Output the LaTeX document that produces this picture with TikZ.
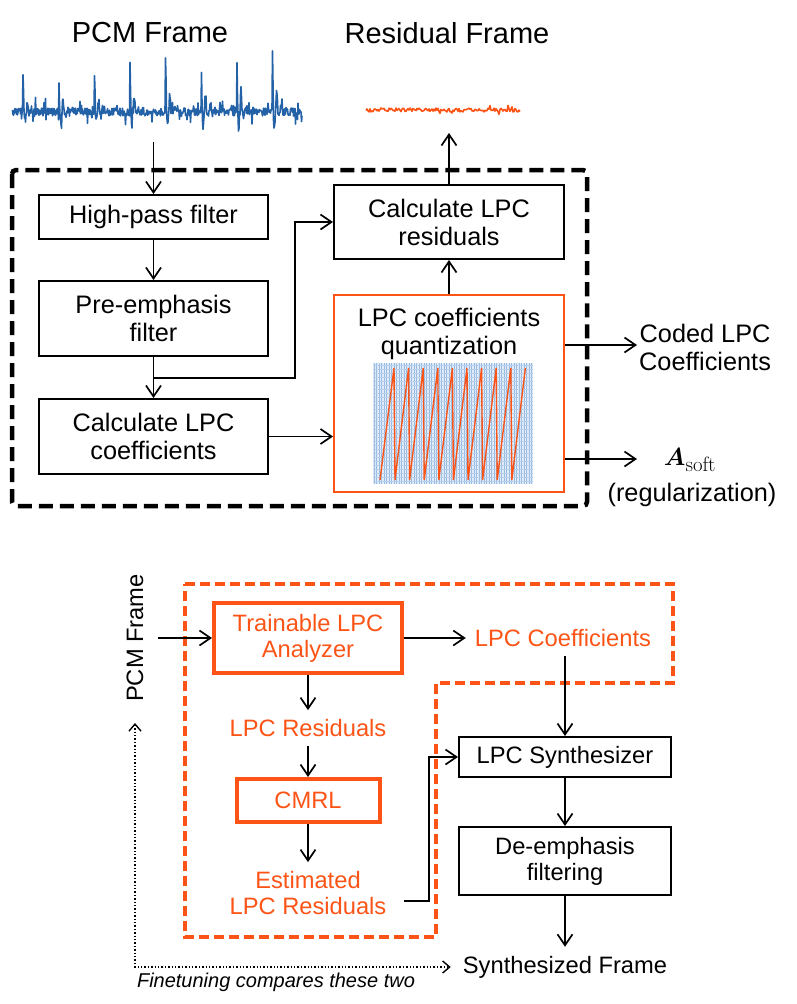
\documentclass[tikz,border=0pt]{standalone}
\usepackage{amsmath}
\usepackage[no-math]{fontspec}
\setmainfont{Liberation Sans}
\usetikzlibrary{arrows.meta}

\definecolor{orng}{RGB}{252,84,22}
\definecolor{wavblue}{RGB}{36,98,168}
\definecolor{gridbg}{RGB}{226,236,248}
\definecolor{gridln}{RGB}{150,186,226}

\newcommand{\bigfont}{\fontsize{29}{32}\selectfont}
\newcommand{\boxfont}{\fontsize{25.3}{28}\selectfont}
\newcommand{\lowfont}{\fontsize{23.7}{26}\selectfont}

\tikzset{
  blk/.style={draw, line width=2pt, align=center, font=\boxfont, inner sep=0pt},
  lowblk/.style={draw, line width=2pt, align=center, font=\lowfont, inner sep=0pt},
  orblk/.style={draw=orng, text=orng, line width=4pt, align=center, font=\lowfont, inner sep=0pt},
  ortxt/.style={text=orng, align=center, font=\lowfont, inner sep=9pt},
  flow/.style={->, line width=1.7pt},
}

\begin{document}
\begin{tikzpicture}[x=1pt, y=-1pt, >={Straight Barb[length=11pt,width=15pt]}]
	\useasboundingbox (0,0) rectangle (797,1004);
	
	% 1. waveforms (top)
	\pgfmathsetseed{11}
	\draw[wavblue, line width=1.6pt, line join=round] plot[domain=12:302, samples=581]
		(\x, {112 - (32+0.16*(\x-12))*exp(-mod(\x+12.6,35.6)/3.5)*(max(cos(80*mod(\x+12.6,35.6)),0)+0.45*min(cos(80*mod(\x+12.6,35.6)),0)) + 4*rand + 12*(rand>0.75)*rand});
	\draw[orng, line width=1.6pt, line join=round] plot[domain=366:520, samples=155]
		(\x, {110 + 2*rand + 6*(rand>0.85)*rand});
	\node[font=\bigfont] (ttlpcm) at (150,33) {PCM Frame};
	\node[font=\bigfont] (ttlres) at (447,33) {Residual Frame};
	
	% 2. encoder frame
	\draw[line width=4.5pt, dash pattern=on 14pt off 7pt, rounded corners=4pt] (12,170) rectangle (587,506);
	
	% 3. encoder blocks
	\node[blk, minimum width=229pt, minimum height=44pt] (hpf) at (153.5,217) {High-pass filter};
	\node[blk, minimum width=229pt, minimum height=75pt] (pef) at (153.5,318.5) {Pre-emphasis\\filter};
	\node[blk, minimum width=229pt, minimum height=75pt] (clc) at (153.5,436.5) {Calculate LPC\\coefficients};
	\node[blk, minimum width=230pt, minimum height=74pt] (clr) at (449,222) {Calculate LPC\\residuals};
	\node[draw=orng, line width=2pt, minimum width=230pt, minimum height=197pt] (lpq) at (449,393.5) {};
	\node[font=\boxfont, align=center, inner sep=0pt] (lpqtxt) at (449,334) {LPC coefficients\\quantization};
	
	% 4. quantizer plot
	\fill[gridbg] (373,363) rectangle (533,484);
	\foreach \gx in {374,376.5,...,532} \draw[gridln, line width=0.5pt] (\gx,363) -- (\gx,484);
	\foreach \gy in {365,369,...,483} \draw[gridln!70, line width=0.4pt] (373,\gy) -- (533,\gy);
	\draw[orng, line width=1.4pt] (380,480) \foreach \k in {0,...,8} { -- ({394+14.6*\k},368) -- ({395+14.6*\k},480) } -- (525.4,368);
	
	% 5. encoder connections
	\coordinate (pcmtail) at (153.5,142);
	\coordinate (split) at (153.5,378);
	\coordinate (bend) at (295,378);
	\coordinate (restip) at (449,133);
	\draw[flow] (pcmtail) -- (hpf.north);
	\draw[flow] (hpf) -- (pef);
	\draw[flow] (pef) -- (clc);
	\draw[flow] (split) -- (bend) |- (clr.west);
	\draw[flow] (clc.east) -- (clc.east -| lpq.west);
	\draw[flow] (lpq) -- (clr);
	\draw[flow] (clr) -- (restip);
	
	% 6. encoder outputs
	\node[font=\boxfont, align=center, anchor=west, inner sep=0pt] (coded) at (639,347) {Coded LPC\\Coefficients};
	\node[font=\fontsize{32}{34}\selectfont] (asoft) at (690,460) {$\boldsymbol{A}_{\mathrm{soft}}$};
	\node[font=\boxfont] (regul) at (692,495) {(regularization)};
	\coordinate (codedtip) at (637,345);
	\coordinate (softtip) at (637,459);
	\draw[flow] (codedtip -| lpq.east) -- (codedtip);
	\draw[flow] (softtip -| lpq.east) -- (softtip);
	
	% 7. trainable part (bottom)
	\draw[orng, line width=3.5pt, dash pattern=on 10pt off 5pt] (185,584) -- (673,584) -- (673,683) -- (436,683) -- (436,937) -- (185,937) -- cycle;
	\node[font=\lowfont, rotate=90] (pcm) at (135,638) {PCM Frame};
	\node[orblk, minimum width=188pt, minimum height=70pt] (tla) at (308,638) {Trainable LPC\\Analyzer};
	\node[ortxt] (lpcc) at (563,638) {LPC Coefficients};
	\node[ortxt] (lpcr) at (308,728) {LPC Residuals};
	\node[orblk, minimum width=143pt, minimum height=43pt] (cmrl) at (308,800.5) {CMRL};
	\node[ortxt] (est) at (308,893) {Estimated\\LPC Residuals};
	
	% 8. synthesis
	\node[lowblk, minimum width=212pt, minimum height=40pt] (syn) at (565,757) {LPC Synthesizer};
	\node[lowblk, minimum width=212pt, minimum height=68pt] (dem) at (565,861) {De-emphasis\\filtering};
	\node[font=\lowfont, inner sep=9pt] (synf) at (565,967) {Synthesized Frame};
	\node[font=\fontsize{20}{22}\selectfont\itshape] (fine) at (276,982) {Finetuning compares these two};
	
	% 9. bottom connections
	\coordinate (pcmin) at (158,638);
	\coordinate (estout) at (404,901);
	\coordinate (estbend) at (429,901);
	\coordinate (cmpup) at (135,723);
	\draw[flow] (pcmin) -- (tla);
	\draw[flow] (tla) -- (lpcc);
	\draw[flow] (tla) -- (lpcr);
	\draw[flow] (lpcr) -- (cmrl);
	\draw[flow] (cmrl) -- (est);
	\draw[flow] (lpcc.south -| syn.north) -- (syn.north);
	\draw[flow] (syn) -- (dem);
	\draw[flow] (dem) -- (synf);
	\draw[flow] (estout) -- (estbend) |- (syn.west);
	\draw[{Straight Barb[length=7pt,width=12pt]}-{Straight Barb[length=7pt,width=12pt]}, dotted, line width=1.4pt] (cmpup) |- ([xshift=-3pt]synf.west);
\end{tikzpicture}
\end{document}
